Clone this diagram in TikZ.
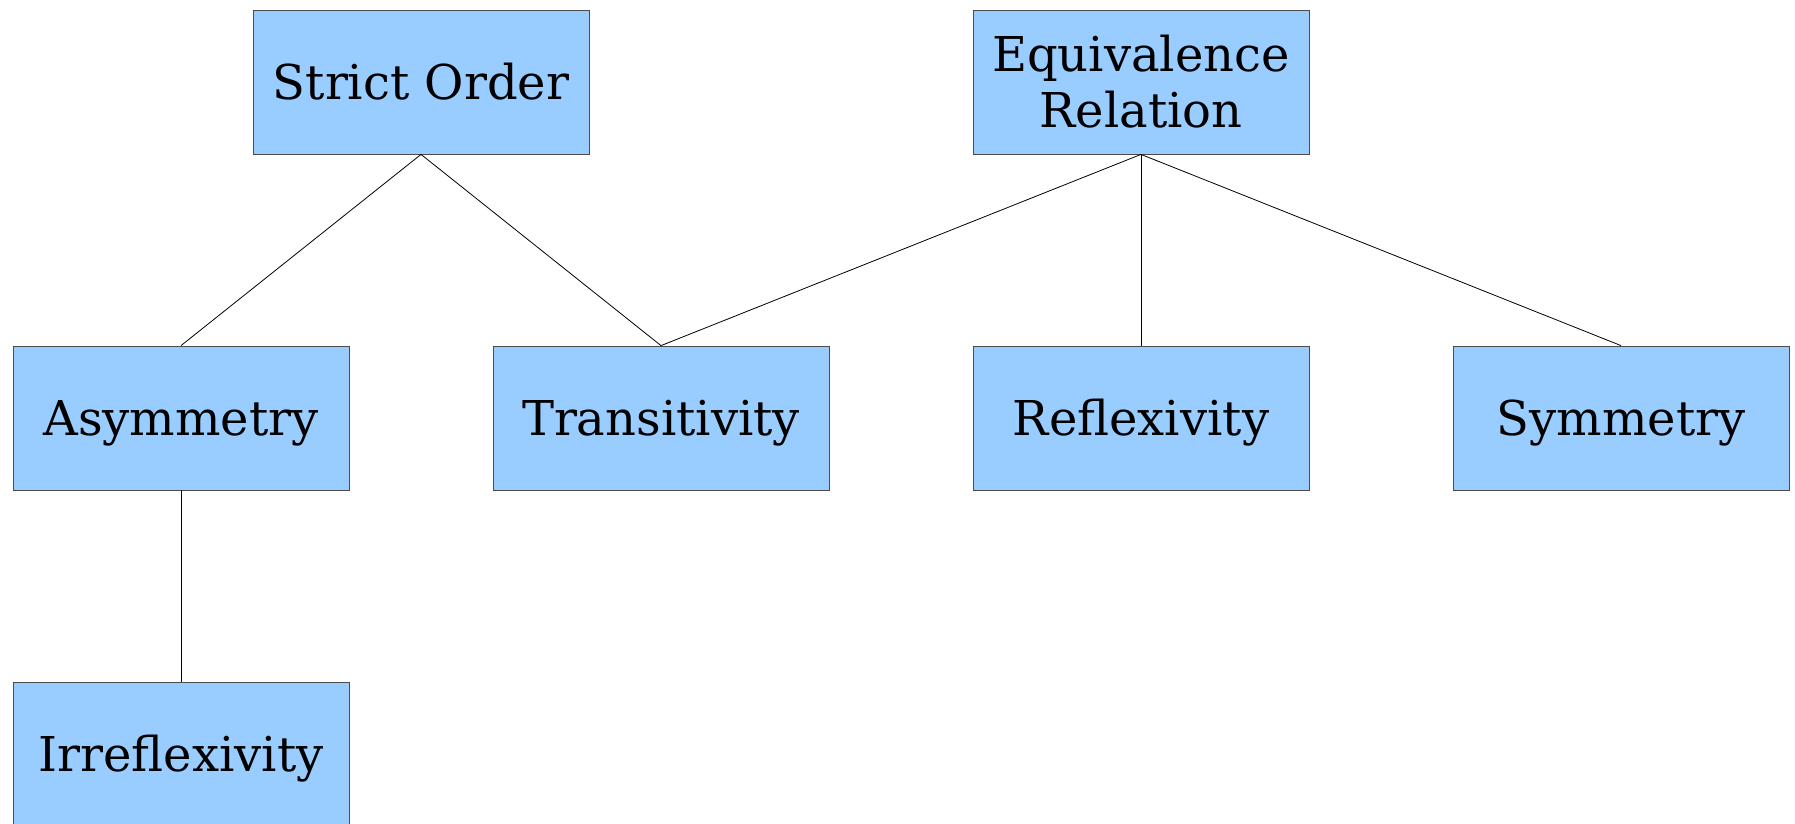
\documentclass[tikz,border=0pt]{standalone}
\usepackage{fontspec}
\setmainfont{DejaVu Serif}
\definecolor{boxblue}{HTML}{99CCFF}

\begin{document}
\begin{tikzpicture}[x=1pt,y=-1pt,
  prop/.style={draw=black!70,fill=boxblue,line width=.8pt,minimum width=336pt,minimum height=144pt,inner sep=0pt,align=center,font=\fontsize{48}{56}\selectfont},
  oneline/.style={prop,text height=35pt,text depth=0pt},
  link/.style={line width=.8pt}]
\path[use as bounding box] (0,0) rectangle (1795,823);
% top row
\node[oneline] (strict) at (421,82) {Strict Order};
\node[prop] (equiv) at (1141,82) {Equivalence\\Relation};
% properties
\node[oneline] (asym) at (181,418) {Asymmetry};
\node[oneline] (trans) at (661,418) {Transitivity};
\node[oneline] (refl) at (1141,418) {Reflexivity};
\node[oneline] (symm) at (1621,418) {Symmetry};
\node[oneline] (irrefl) at (181,754) {Irreflexivity};
% links
\draw[link] (strict.south) -- (asym.north);
\draw[link] (strict.south) -- (trans.north);
\draw[link] (equiv.south) -- (trans.north);
\draw[link] (equiv.south) -- (refl.north);
\draw[link] (equiv.south) -- (symm.north);
\draw[link] (asym.south) -- (irrefl.north);
\end{tikzpicture}
\end{document}
